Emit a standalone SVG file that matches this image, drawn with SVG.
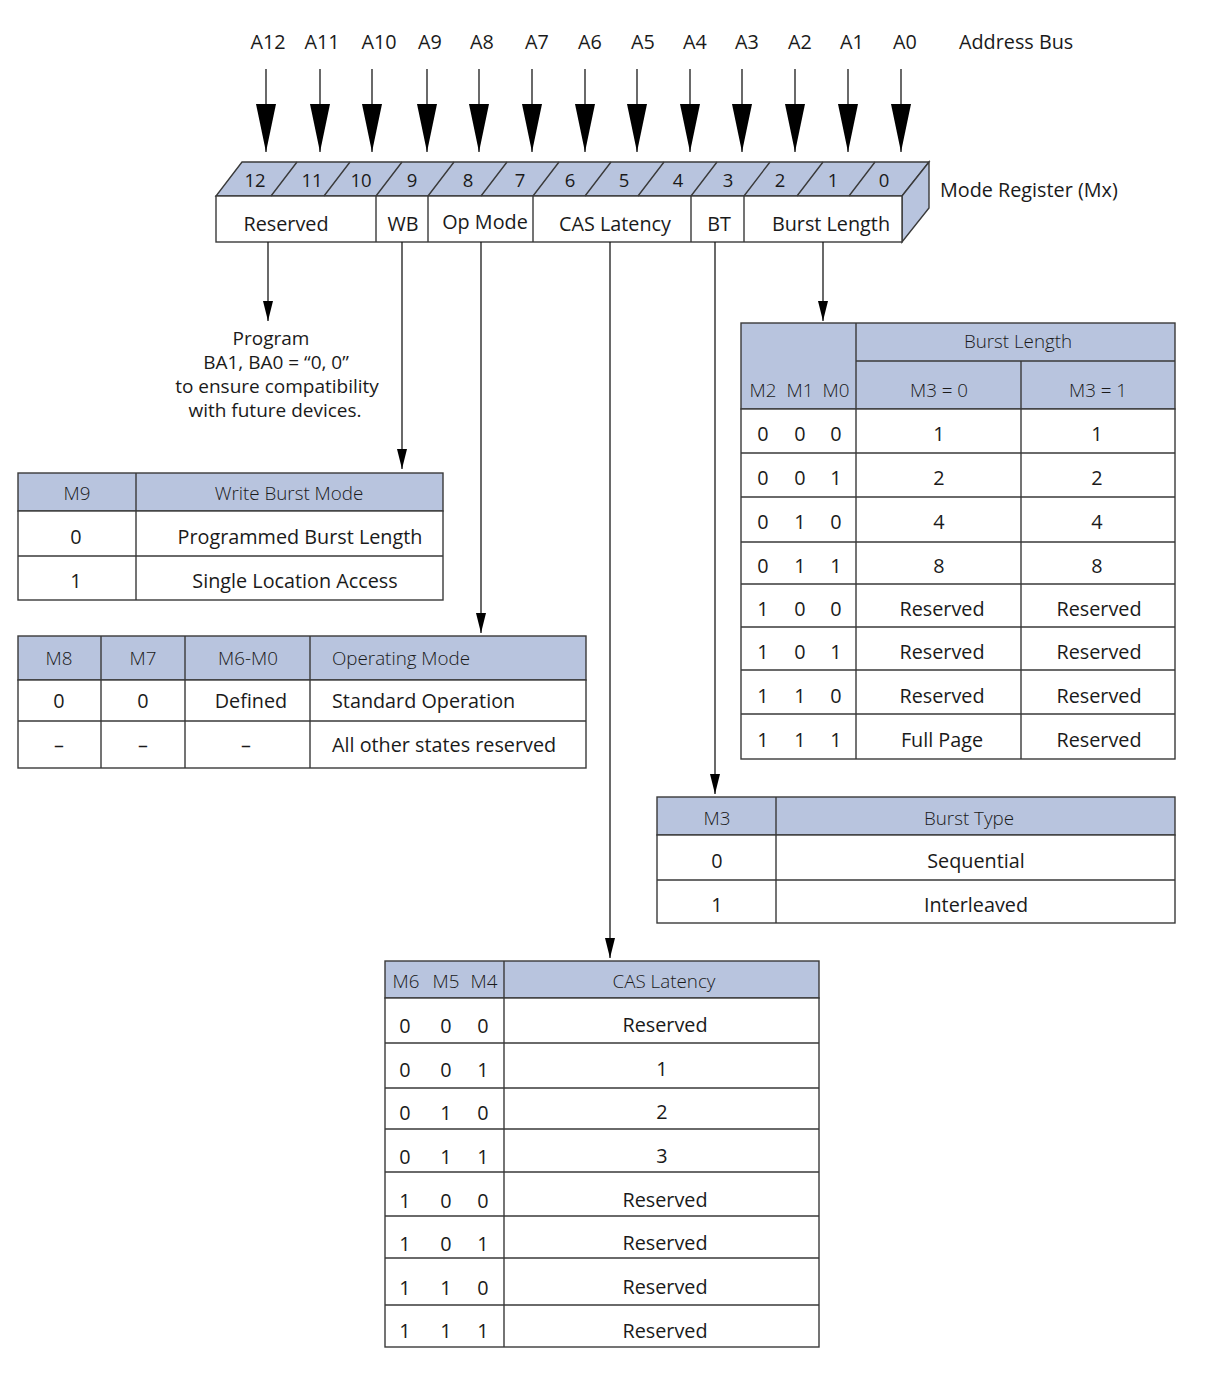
<svg xmlns="http://www.w3.org/2000/svg" width="1219" height="1386" viewBox="0 0 1219 1386">
  <style>
    text { font-family: "Open Sans", "Noto Sans", "Liberation Sans", sans-serif; fill: #1a1a1a; font-size: 19.8px; }
    .c { text-anchor: middle; }
    .h { font-weight: 300; font-size: 18.8px; }
    text.note { font-size: 19px; }
    .hd { fill: #b8c4de; stroke: #3a3a3a; stroke-width: 1.4; }
    .cell { fill: #ffffff; stroke: #3a3a3a; stroke-width: 1.4; }
    .ln { stroke: #3a3a3a; stroke-width: 1.4; fill: none; }
    .wire { stroke: #1a1a1a; stroke-width: 1.3; fill: none; }
  </style>
  <defs>
    <marker id="busArrow" markerUnits="userSpaceOnUse" markerWidth="48" markerHeight="20" refX="48" refY="10" orient="auto">
      <path d="M0,0 L48,10 L0,20 z" fill="#000"/>
    </marker>
    <marker id="arrow" markerUnits="userSpaceOnUse" markerWidth="20" markerHeight="10" refX="20" refY="5" orient="auto">
      <path d="M0,0 L20,5 L0,10 z" fill="#000"/>
    </marker>
  </defs>

  <rect width="1219" height="1386" fill="#ffffff"/>

  <!-- address bus -->
  <g id="address-bus">
    <g class="c">
      <text x="268" y="49">A12</text>
      <text x="322" y="49">A11</text>
      <text x="379" y="49">A10</text>
      <text x="430" y="49">A9</text>
      <text x="482" y="49">A8</text>
      <text x="537" y="49">A7</text>
      <text x="590" y="49">A6</text>
      <text x="643" y="49">A5</text>
      <text x="695" y="49">A4</text>
      <text x="747" y="49">A3</text>
      <text x="800" y="49">A2</text>
      <text x="852" y="49">A1</text>
      <text x="905" y="49">A0</text>
    </g>
    <text x="959" y="49">Address Bus</text>
    <g class="wire" marker-end="url(#busArrow)">
      <path d="M266,69 V152"/>
      <path d="M320,69 V152"/>
      <path d="M372,69 V152"/>
      <path d="M427,69 V152"/>
      <path d="M479,69 V152"/>
      <path d="M532,69 V152"/>
      <path d="M585,69 V152"/>
      <path d="M637,69 V152"/>
      <path d="M690,69 V152"/>
      <path d="M742,69 V152"/>
      <path d="M795,69 V152"/>
      <path d="M848,69 V152"/>
      <path d="M901,69 V152"/>
    </g>
  </g>

  <!-- mode register block -->
  <g id="mode-register">
    <path class="hd" d="M242,162 H929 L902,196 H216 Z"/>
    <path class="hd" d="M902,196 L929,162 V208 L902,242 Z"/>
    <rect class="cell" x="216" y="196" width="686" height="46"/>
    <g class="ln">
      <path d="M271,196 L297,162 M324,196 L350,162 M376,196 L402,162 M428,196 L454,162 M481,196 L507,162 M533,196 L559,162 M585,196 L611,162 M638,196 L664,162 M691,196 L717,162 M744,196 L770,162 M797,196 L823,162 M849,196 L875,162"/>
      <path d="M376,196 V242 M428,196 V242 M533,196 V242 M691,196 V242 M744,196 V242"/>
    </g>
    <g class="c">
      <text x="255" y="187" style="font-size:18.5px">12</text>
      <text x="312" y="187" style="font-size:18.5px">11</text>
      <text x="361" y="187" style="font-size:18.5px">10</text>
      <text x="412" y="187" style="font-size:18.5px">9</text>
      <text x="468" y="187" style="font-size:18.5px">8</text>
      <text x="520" y="187" style="font-size:18.5px">7</text>
      <text x="570" y="187" style="font-size:18.5px">6</text>
      <text x="624" y="187" style="font-size:18.5px">5</text>
      <text x="678" y="187" style="font-size:18.5px">4</text>
      <text x="728" y="187" style="font-size:18.5px">3</text>
      <text x="780" y="187" style="font-size:18.5px">2</text>
      <text x="833" y="187" style="font-size:18.5px">1</text>
      <text x="884" y="187" style="font-size:18.5px">0</text>
    </g>
    <g class="c">
      <text x="286" y="231">Reserved</text>
      <text x="403" y="231">WB</text>
      <text x="485" y="229">Op Mode</text>
      <text x="615" y="231">CAS Latency</text>
      <text x="719" y="231">BT</text>
      <text x="831" y="231">Burst Length</text>
    </g>
    <text x="940" y="197">Mode Register (Mx)</text>
  </g>

  <!-- field connectors -->
  <g id="connectors" class="wire" marker-end="url(#arrow)">
    <path d="M268,242 V321"/>
    <path d="M402,242 V469"/>
    <path d="M481,242 V633"/>
    <path d="M610,242 V958"/>
    <path d="M715,242 V794"/>
    <path d="M823,242 V321"/>
  </g>

  <!-- note for reserved bits -->
  <g id="reserved-note">
    <text class="c note" x="271" y="345">Program</text>
    <text class="c note" x="276" y="369">BA1, BA0 = “0, 0”</text>
    <text class="c note" x="277" y="393">to ensure compatibility</text>
    <text class="c note" x="275" y="417">with future devices.</text>
  </g>

  <!-- write burst mode (M9) -->
  <g id="write-burst-table">
    <rect class="hd" x="18" y="473" width="425" height="38"/>
    <rect class="cell" x="18" y="511" width="425" height="89"/>
    <path class="ln" d="M136,473 V600 M18,556 H443"/>
    <text class="c h" x="77" y="500">M9</text>
    <text class="c h" x="289" y="500">Write Burst Mode</text>
    <text class="c" x="76" y="544">0</text>
    <text class="c" x="300" y="544">Programmed Burst Length</text>
    <text class="c" x="76" y="588">1</text>
    <text class="c" x="295" y="588">Single Location Access</text>
  </g>

  <!-- operating mode (M8, M7) -->
  <g id="op-mode-table">
    <rect class="hd" x="18" y="636" width="568" height="44"/>
    <rect class="cell" x="18" y="680" width="568" height="88"/>
    <path class="ln" d="M101,636 V768 M185,636 V768 M310,636 V768 M18,721 H586"/>
    <text class="c h" x="59" y="665">M8</text>
    <text class="c h" x="143" y="665">M7</text>
    <text class="c h" x="248" y="665">M6-M0</text>
    <text class="h" x="332" y="665">Operating Mode</text>
    <text class="c" x="59" y="708">0</text>
    <text class="c" x="143" y="708">0</text>
    <text class="c" x="251" y="708">Defined</text>
    <text x="332" y="708">Standard Operation</text>
    <text class="c" x="59" y="752">–</text>
    <text class="c" x="143" y="752">–</text>
    <text class="c" x="246" y="752">–</text>
    <text x="332" y="752">All other states reserved</text>
  </g>

  <!-- burst length (M2-M0) -->
  <g id="burst-length-table">
    <rect class="hd" x="741" y="323" width="434" height="86"/>
    <rect class="cell" x="741" y="409" width="434" height="350"/>
    <path class="ln" d="M856,323 V759 M856,361 H1175 M1021,361 V759"/>
    <path class="ln" d="M741,453 H1175 M741,497 H1175 M741,542 H1175 M741,584 H1175 M741,627 H1175 M741,670 H1175 M741,714 H1175"/>
    <text class="c h" x="1018" y="348">Burst Length</text>
    <text class="c h" x="763" y="397">M2</text>
    <text class="c h" x="800" y="397">M1</text>
    <text class="c h" x="836" y="397">M0</text>
    <text class="c h" x="939" y="397">M3 = 0</text>
    <text class="c h" x="1098" y="397">M3 = 1</text>
    <g class="c">
      <text x="763" y="441">0</text><text x="800" y="441">0</text><text x="836" y="441">0</text>
      <text x="939" y="441">1</text><text x="1097" y="441">1</text>
      <text x="763" y="485">0</text><text x="800" y="485">0</text><text x="836" y="485">1</text>
      <text x="939" y="485">2</text><text x="1097" y="485">2</text>
      <text x="763" y="529">0</text><text x="800" y="529">1</text><text x="836" y="529">0</text>
      <text x="939" y="529">4</text><text x="1097" y="529">4</text>
      <text x="763" y="573">0</text><text x="800" y="573">1</text><text x="836" y="573">1</text>
      <text x="939" y="573">8</text><text x="1097" y="573">8</text>
      <text x="763" y="616">1</text><text x="800" y="616">0</text><text x="836" y="616">0</text>
      <text x="942" y="616">Reserved</text><text x="1099" y="616">Reserved</text>
      <text x="763" y="659">1</text><text x="800" y="659">0</text><text x="836" y="659">1</text>
      <text x="942" y="659">Reserved</text><text x="1099" y="659">Reserved</text>
      <text x="763" y="703">1</text><text x="800" y="703">1</text><text x="836" y="703">0</text>
      <text x="942" y="703">Reserved</text><text x="1099" y="703">Reserved</text>
      <text x="763" y="747">1</text><text x="800" y="747">1</text><text x="836" y="747">1</text>
      <text x="942" y="747">Full Page</text><text x="1099" y="747">Reserved</text>
    </g>
  </g>

  <!-- burst type (M3) -->
  <g id="burst-type-table">
    <rect class="hd" x="657" y="797" width="518" height="38"/>
    <rect class="cell" x="657" y="835" width="518" height="88"/>
    <path class="ln" d="M776,797 V923 M657,880 H1175"/>
    <text class="c h" x="717" y="825">M3</text>
    <text class="c h" x="969" y="825">Burst Type</text>
    <text class="c" x="717" y="868">0</text>
    <text class="c" x="976" y="868">Sequential</text>
    <text class="c" x="717" y="912">1</text>
    <text class="c" x="976" y="912">Interleaved</text>
  </g>

  <!-- CAS latency (M6-M4) -->
  <g id="cas-latency-table">
    <rect class="hd" x="385" y="961" width="434" height="37"/>
    <rect class="cell" x="385" y="998" width="434" height="349"/>
    <path class="ln" d="M504,961 V1347"/>
    <path class="ln" d="M385,1043 H819 M385,1088 H819 M385,1129 H819 M385,1172 H819 M385,1216 H819 M385,1258 H819 M385,1305 H819"/>
    <text class="c h" x="406" y="988">M6</text>
    <text class="c h" x="446" y="988">M5</text>
    <text class="c h" x="484" y="988">M4</text>
    <text class="c h" x="664" y="988">CAS Latency</text>
    <g class="c">
      <text x="405" y="1033">0</text><text x="446" y="1033">0</text><text x="483" y="1033">0</text>
      <text x="665" y="1032">Reserved</text>
      <text x="405" y="1077">0</text><text x="446" y="1077">0</text><text x="483" y="1077">1</text>
      <text x="662" y="1076">1</text>
      <text x="405" y="1120">0</text><text x="446" y="1120">1</text><text x="483" y="1120">0</text>
      <text x="662" y="1119">2</text>
      <text x="405" y="1164">0</text><text x="446" y="1164">1</text><text x="483" y="1164">1</text>
      <text x="662" y="1163">3</text>
      <text x="405" y="1208">1</text><text x="446" y="1208">0</text><text x="483" y="1208">0</text>
      <text x="665" y="1207">Reserved</text>
      <text x="405" y="1251">1</text><text x="446" y="1251">0</text><text x="483" y="1251">1</text>
      <text x="665" y="1250">Reserved</text>
      <text x="405" y="1295">1</text><text x="446" y="1295">1</text><text x="483" y="1295">0</text>
      <text x="665" y="1294">Reserved</text>
      <text x="405" y="1338">1</text><text x="446" y="1338">1</text><text x="483" y="1338">1</text>
      <text x="665" y="1338">Reserved</text>
    </g>
  </g>
</svg>
